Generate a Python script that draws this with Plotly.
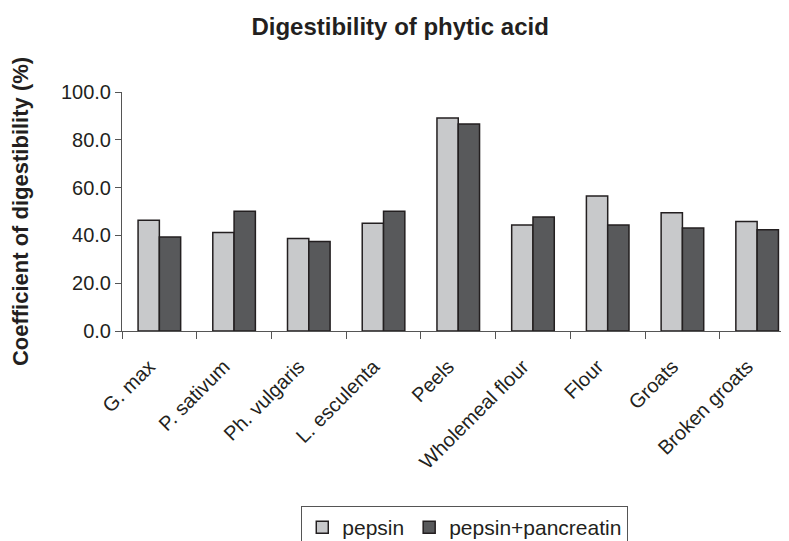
import plotly.graph_objects as go

categories = ["G. max", "P. sativum", "Ph. vulgaris", "L. esculenta", "Peels",
              "Wholemeal flour", "Flour", "Groats", "Broken groats"]
pepsin = [46.3, 41.2, 38.7, 45.1, 89.1, 44.4, 56.5, 49.5, 45.8]
pepsin_pancreatin = [39.3, 50.1, 37.4, 50.1, 86.6, 47.7, 44.4, 43.1, 42.4]
y_ticks = [0, 20, 40, 60, 80, 100]
y_tick_labels = ["0.0", "20.0", "40.0", "60.0", "80.0", "100.0"]

FONT = "Liberation Sans, Arial, sans-serif"
outline = dict(color="#231f20", width=1.5)

fig = go.Figure()
fig.add_trace(go.Bar(x=categories, y=pepsin, name="pepsin",
                     marker=dict(color="#c8c9cb", line=outline)))
fig.add_trace(go.Bar(x=categories, y=pepsin_pancreatin, name="pepsin+pancreatin",
                     marker=dict(color="#58595b", line=outline)))

fig.update_layout(
    width=789, height=541,
    margin=dict(l=114, r=1, t=84, b=217),
    paper_bgcolor="white", plot_bgcolor="white",
    barmode="group", bargap=0.43, bargroupgap=0,
    font=dict(family=FONT, size=20, color="#231f20"),
    title=dict(text="<b>Digestibility of phytic acid</b>", x=0.497, xanchor="center",
               y=0.965, yanchor="middle", font=dict(size=24, family=FONT)),
    showlegend=True,
    legend=dict(orientation="h", x=0.266, xanchor="left", y=-0.73, yanchor="top",
                bordercolor="#555555", borderwidth=1, font=dict(size=21),
                itemwidth=30, tracegroupgap=0),
)
fig.update_xaxes(range=[-0.5, 8.52], showline=True, linecolor="#555555", linewidth=1,
                 ticks="outside", tickson="boundaries", ticklen=7, tickcolor="#555555",
                 tickangle=-45, tickfont=dict(size=20), showgrid=False, automargin=False,
                 ticklabelstandoff=15, ticklabelshift=-10)
fig.update_yaxes(range=[0, 100], tickvals=y_ticks, ticktext=y_tick_labels,
                 showline=True, linecolor="#555555", linewidth=1,
                 ticks="outside", ticklen=6, tickcolor="#555555", showgrid=False,
                 zeroline=False, tickfont=dict(size=20), automargin=False,
                 title=dict(text="<b>Coefficient of digestibility (%)</b>",
                            font=dict(size=22, family=FONT), standoff=26))

fig.write_html("out.html")
